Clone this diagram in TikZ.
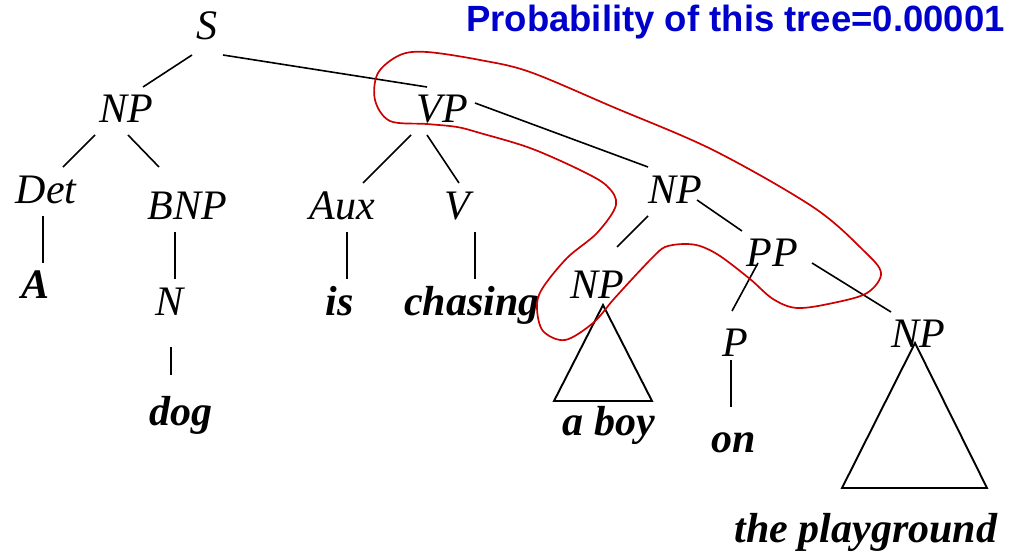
\documentclass[tikz,border=0pt]{standalone}
\usepackage{fontspec}
\setmainfont{Liberation Serif}
\newfontfamily\titlefont{Liberation Sans}
\definecolor{loopred}{RGB}{204,0,0}
\definecolor{titleblue}{RGB}{0,0,204}
\begin{document}
\begin{tikzpicture}[x=1pt,y=-1pt,
  cat/.style={font=\fontsize{42}{48}\selectfont\itshape, inner sep=0pt, anchor=base},
  word/.style={font=\fontsize{42}{48}\selectfont\bfseries\itshape, inner sep=0pt, anchor=base},
  edge/.style={line width=1.6pt, draw=black},
  tri/.style={line width=1.9pt, draw=black, line join=miter},
  loopline/.style={line width=1.7pt, draw=loopred}]
\useasboundingbox (0,0) rectangle (1011,551);
% title
\node[font=\titlefont\bfseries\fontsize{36.5}{40}\selectfont, text=titleblue, inner sep=0pt, anchor=base east] (title) at (1005,32) {Probability of this tree=0.00001};
% categories
\node[cat] (S) at (207,40) {S};
\node[cat] (NP) at (126,122) {NP};
\node[cat] (VP) at (442,122) {VP};
\node[cat] (Det) at (46,203) {Det};
\node[cat] (BNP) at (187,219) {BNP};
\node[cat] (Aux) at (342,219) {Aux};
\node[cat] (V) at (457,219) {V};
\node[cat] (N) at (170,315) {N};
\node[cat] (NPm) at (675,203) {NP};
\node[cat] (PP) at (772,266) {PP};
\node[cat] (NPl) at (597,298) {NP};
\node[cat] (P) at (735,356) {P};
\node[cat] (NPr) at (918,347) {NP};
% words
\node[word] (A) at (36,298) {A};
\node[word] (is) at (340,315) {is};
\node[word] (chasing) at (472,315) {chasing};
\node[word] (dog) at (181,425) {dog};
\node[word] (aboy) at (609,435) {a boy};
\node[word] (on) at (734,452) {on};
\node[word] (playground) at (866,542) {the playground};
% edges
\draw[edge] ([shift={(-15,15)}]S.base) -- ([shift={(17,-35)}]NP.base);
\draw[edge] ([shift={(16,15)}]S.base) -- ([shift={(-15,-35)}]VP.base);
\draw[edge] ([shift={(-31,13)}]NP.base) -- ([shift={(17,-36)}]Det.base);
\draw[edge] ([shift={(2,13)}]NP.base) -- ([shift={(-28,-52)}]BNP.base);
\draw[edge] ([shift={(-3,13)}]Det.base) -- ([shift={(7,-35)}]A.base);
\draw[edge] ([shift={(-12,13)}]BNP.base) -- ([shift={(5,-36)}]N.base);
\draw[edge] ([shift={(1,32)}]N.base) -- ([shift={(-10,-50)}]dog.base);
\draw[edge] ([shift={(-31,13)}]VP.base) -- ([shift={(21,-36)}]Aux.base);
\draw[edge] ([shift={(-15,13)}]VP.base) -- ([shift={(2,-36)}]V.base);
\draw[edge] ([shift={(33,-19)}]VP.base) -- ([shift={(-27,-36)}]NPm.base);
\draw[edge] ([shift={(5,13)}]Aux.base) -- ([shift={(7,-36)}]is.base);
\draw[edge] ([shift={(18,13)}]V.base) -- ([shift={(3,-36)}]chasing.base);
\draw[edge] ([shift={(-27,13)}]NPm.base) -- ([shift={(20,-51)}]NPl.base);
\draw[edge] ([shift={(22,-3)}]NPm.base) -- ([shift={(-30,-35)}]PP.base);
\draw[edge] ([shift={(-14,-3)}]PP.base) -- ([shift={(-3,-45)}]P.base);
\draw[edge] ([shift={(40,-3)}]PP.base) -- ([shift={(-27,-35)}]NPr.base);
\draw[edge] ([shift={(-4,4)}]P.base) -- ([shift={(-3,-45)}]on.base);
% triangles
\draw[tri] ([shift={(6,7)}]NPl.base) -- ++(-49,96) -- ++(98,0) -- cycle;
\draw[tri] ([shift={(-3,-4)}]NPr.base) -- ++(-73,145) -- ++(145,0) -- cycle;
% red loop
\draw[loopline] plot[smooth cycle, tension=0.55] coordinates {
 (427,52) (480,60) (530,72) (613,107) (713,150) (813,207) (863,250) (881,273)
 (867,293) (833,303) (797,308) (773,299) (750,279) (720,256) (700,246) (683,244) (665,247)
 (653,257) (634,277) (613,300) (593,323) (565,340) (543,331) (537,308) (542,289) (567,258)
 (597,233) (616,205) (607,186) (580,170) (530,148) (480,133) (457,127) (427,124) (390,121)
 (375,100) (378,73) (400,55)};
\end{tikzpicture}
\end{document}
